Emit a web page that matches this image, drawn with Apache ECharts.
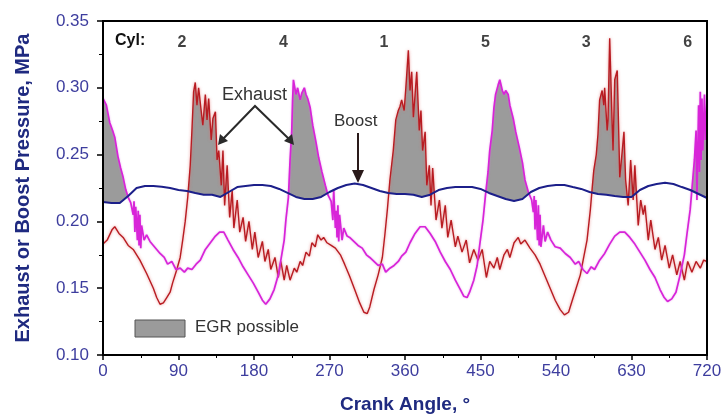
<!DOCTYPE html>
<html>
<head>
<meta charset="utf-8">
<script src="https://cdn.jsdelivr.net/npm/echarts@6/dist/echarts.min.js"></script>
<style>
  html, body { margin: 0; padding: 0; background: #fff; }
  #chart { width: 724px; height: 414px; }
</style>
</head>
<body>
<div id="chart"></div>
<script>
// Boost pressure (MPa) every 10 degrees of crank angle
const boostAngle = [0,10,20,30,40,50,60,70,80,90,100,110,120,130,140,150,160,170,180,190,200,210,220,230,240,250,260,270,280,290,300,310,320,330,340,350,360,370,380,390,400,410,420,430,440,450,460,470,480,490,500,510,520,530,540,550,560,570,580,590,600,610,620,630,640,650,660,670,680,690,700,710,720];
const boostPressure = [0.2145,0.2138,0.2138,0.219,0.225,0.2265,0.2265,0.226,0.225,0.2235,0.2228,0.2213,0.22,0.22,0.2183,0.222,0.2257,0.2265,0.2272,0.2272,0.2265,0.2243,0.2213,0.2183,0.2168,0.2168,0.2183,0.222,0.225,0.2272,0.2284,0.2272,0.225,0.2228,0.2213,0.2205,0.2205,0.22,0.2183,0.22,0.2235,0.225,0.2257,0.2257,0.2257,0.2243,0.2213,0.219,0.2168,0.2153,0.2168,0.222,0.225,0.2265,0.2272,0.2272,0.2257,0.2243,0.222,0.2205,0.22,0.219,0.2183,0.2183,0.2235,0.2265,0.228,0.229,0.228,0.2257,0.2235,0.2205,0.2175];

// Exhaust manifold serving cylinders 2, 1, 3 (red trace)
const exhaustAAngle = [0,5,11,14,19,24,30,36,44,52,60,64,68,72,76,80,83,88,92,95,98,101,104,106,108,110,112,114,117,119,122,124,126,129,131,134,136,138,141,143,145,148,151,154,156,160,163,167,170,174,178,181,185,190,193,197,200,205,209,212,216,219,223,228,231,235,238,242,246,249,253,256,260,263,267,272,277,283,288,294,300,306,311,315,318,323,328,333,336,339,342,346,349,352,354,356,359,361,364,366,368,370,372,374,377,379,381,384,386,389,391,393,397,401,404,408,411,415,420,423,428,433,437,442,447,452,457,461,466,470,473,478,482,485,490,495,498,503,509,515,521,527,533,539,545,550,555,559,564,569,573,577,581,583,585,588,590,592,595,597,598,601,602,604,607,608,610,613,615,616,619,621,623,626,629,632,634,638,641,644,646,650,653,658,662,666,670,675,679,684,688,693,697,702,707,712,716,720];
const exhaustAPressure = [0.183,0.186,0.194,0.196,0.191,0.188,0.182,0.179,0.171,0.161,0.150,0.143,0.138,0.139,0.143,0.147,0.154,0.164,0.173,0.186,0.200,0.218,0.242,0.268,0.297,0.304,0.287,0.300,0.283,0.272,0.295,0.276,0.292,0.261,0.277,0.282,0.246,0.253,0.227,0.253,0.212,0.242,0.203,0.223,0.195,0.216,0.192,0.203,0.185,0.200,0.179,0.192,0.173,0.185,0.170,0.179,0.164,0.173,0.158,0.170,0.156,0.167,0.156,0.165,0.162,0.170,0.167,0.177,0.174,0.184,0.181,0.190,0.186,0.188,0.184,0.182,0.180,0.175,0.168,0.159,0.149,0.139,0.132,0.131,0.136,0.149,0.160,0.173,0.190,0.209,0.231,0.253,0.276,0.283,0.286,0.291,0.283,0.300,0.328,0.298,0.312,0.278,0.295,0.312,0.268,0.283,0.253,0.267,0.227,0.242,0.212,0.240,0.201,0.216,0.195,0.212,0.188,0.201,0.181,0.189,0.177,0.186,0.169,0.179,0.171,0.179,0.158,0.170,0.165,0.173,0.164,0.175,0.179,0.173,0.184,0.188,0.183,0.186,0.180,0.175,0.168,0.159,0.150,0.141,0.134,0.130,0.132,0.140,0.150,0.160,0.173,0.186,0.209,0.224,0.238,0.250,0.265,0.291,0.298,0.287,0.300,0.268,0.276,0.337,0.272,0.253,0.306,0.313,0.261,0.233,0.253,0.267,0.231,0.212,0.246,0.216,0.242,0.197,0.216,0.205,0.212,0.186,0.201,0.179,0.188,0.171,0.182,0.165,0.175,0.160,0.170,0.156,0.170,0.162,0.170,0.165,0.171,0.170];

// Exhaust manifold serving cylinders 4, 5, 6 (magenta trace)
const exhaustBAngle = [0,4,8,12,14,18,21,24,27,30,33,36,37,38,39,41,42,43,44,45,46,49,52,56,60,64,68,73,77,82,87,92,97,101,106,111,116,122,128,134,139,144,149,155,161,167,173,179,185,190,194,199,204,209,212,216,218,221,223,225,226,227,230,232,235,237,240,242,244,247,250,254,257,261,265,268,272,274,275,277,278,279,280,281,282,285,287,291,294,299,304,309,314,318,323,328,333,337,342,347,352,356,361,366,372,378,384,390,396,402,408,414,420,426,430,434,437,442,446,449,453,456,459,461,464,466,468,471,473,476,478,480,483,485,489,492,496,500,503,507,511,513,514,515,516,518,519,520,521,522,525,527,530,534,539,545,551,557,563,567,572,577,582,586,592,598,604,610,616,622,628,634,640,646,652,658,664,669,673,678,683,688,693,696,700,702,705,707,708,710,711,712,713,714,715,717,718,720];
const exhaustBPressure = [0.292,0.287,0.274,0.267,0.263,0.248,0.240,0.233,0.224,0.218,0.214,0.205,0.215,0.192,0.211,0.186,0.208,0.182,0.205,0.180,0.197,0.186,0.190,0.185,0.182,0.179,0.176,0.173,0.168,0.170,0.164,0.165,0.162,0.165,0.164,0.168,0.171,0.179,0.184,0.189,0.192,0.192,0.186,0.179,0.173,0.166,0.160,0.154,0.147,0.141,0.138,0.142,0.149,0.160,0.171,0.186,0.201,0.218,0.246,0.268,0.291,0.306,0.295,0.300,0.291,0.296,0.300,0.295,0.292,0.285,0.272,0.259,0.248,0.237,0.227,0.220,0.215,0.201,0.224,0.195,0.208,0.188,0.212,0.185,0.205,0.186,0.195,0.189,0.188,0.185,0.182,0.180,0.175,0.173,0.170,0.167,0.168,0.162,0.165,0.167,0.170,0.174,0.177,0.184,0.191,0.196,0.196,0.191,0.185,0.177,0.170,0.164,0.156,0.149,0.144,0.143,0.147,0.156,0.167,0.182,0.201,0.220,0.237,0.253,0.268,0.285,0.295,0.302,0.306,0.298,0.295,0.298,0.295,0.287,0.277,0.267,0.256,0.244,0.231,0.222,0.216,0.207,0.219,0.194,0.216,0.186,0.212,0.182,0.205,0.181,0.197,0.185,0.192,0.186,0.181,0.180,0.176,0.173,0.168,0.170,0.164,0.161,0.166,0.164,0.171,0.176,0.183,0.189,0.192,0.192,0.188,0.183,0.177,0.171,0.164,0.158,0.149,0.143,0.140,0.142,0.147,0.160,0.175,0.190,0.209,0.224,0.246,0.268,0.216,0.287,0.237,0.297,0.246,0.292,0.253,0.295,0.261,0.291];

// Firing cylinder labels along the top
const cylinderAngle = [94, 215, 335, 456, 576, 697];
const cylinderLabel = ['2', '4', '1', '5', '3', '6'];

const yTicks = [0.10, 0.15, 0.20, 0.25, 0.30, 0.35];
const xTicks = [0, 90, 180, 270, 360, 450, 540, 630, 720];

const pairs = (xs, ys) => xs.map((x, i) => [x, ys[i]]);

const chart = echarts.init(document.getElementById('chart'), null, { renderer: 'canvas' });
const FONT = '"Liberation Sans", Arial, sans-serif';
const NAVY = '#1f2a80';
const TICKBLUE = '#3d3d9e';
const GREY = '#9b9b9b';

const areaOnly = (name, xs, ys, fill) => ({
  name, type: 'line', data: pairs(xs, ys), showSymbol: false, silent: true,
  lineStyle: { width: 0, opacity: 0 },
  areaStyle: { color: fill, opacity: 1, origin: 'start' },
  z: 1
});

chart.setOption({
  animation: false,
  backgroundColor: '#fff',
  grid: {
    left: 103, right: 17, top: 21, bottom: 59, containLabel: false, outerBoundsMode: 'none',
    show: true, borderColor: '#000', borderWidth: 2, backgroundColor: 'transparent', z: 10
  },
  xAxis: {
    type: 'value', min: 0, max: 720, interval: 90, z: 10,
    name: 'Crank Angle, °', nameLocation: 'middle', nameGap: 40,
    nameTextStyle: { fontFamily: FONT, fontSize: 19, fontWeight: 'bold', color: NAVY },
    axisLine: { show: true, lineStyle: { color: '#000', width: 2 } },
    axisTick: { show: true, length: 5, lineStyle: { color: '#000', width: 1.5 } },
    minorTick: { show: true, splitNumber: 2, length: 3, lineStyle: { color: '#000', width: 1 } },
    splitLine: { show: false },
    axisLabel: {
      fontFamily: FONT, fontSize: 17, color: TICKBLUE, margin: 8,
      customValues: xTicks, formatter: v => String(v)
    }
  },
  yAxis: {
    type: 'value', min: 0.10, max: 0.35, interval: 0.05, z: 10,
    name: 'Exhaust or Boost Pressure, MPa', nameLocation: 'middle', nameGap: 70, nameRotate: 90,
    nameTextStyle: { fontFamily: FONT, fontSize: 20, fontWeight: 'bold', color: NAVY },
    axisLine: { show: true, lineStyle: { color: '#000', width: 2 } },
    axisTick: { show: true, length: 6, lineStyle: { color: '#000', width: 1.5 } },
    minorTick: { show: true, splitNumber: 2, length: 4, lineStyle: { color: '#000', width: 1 } },
    splitLine: { show: false },
    axisLabel: {
      fontFamily: FONT, fontSize: 17, color: TICKBLUE, margin: 14,
      formatter: v => yTicks.find(t => Math.abs(t - v) < 1e-9).toFixed(2)
    }
  },
  series: [
    // grey "EGR possible" region: area under each exhaust trace, masked below boost
    areaOnly('egrA', exhaustAAngle, exhaustAPressure, GREY),
    areaOnly('egrB', exhaustBAngle, exhaustBPressure, GREY),
    areaOnly('mask', boostAngle, boostPressure, '#ffffff'),
    {
      name: 'Exhaust A', type: 'line', data: pairs(exhaustAAngle, exhaustAPressure),
      showSymbol: false, silent: true, z: 3,
      lineStyle: { color: '#b81c22', width: 1.4, shadowColor: 'rgba(225,110,110,0.75)', shadowBlur: 3 }
    },
    {
      name: 'Exhaust B', type: 'line', data: pairs(exhaustBAngle, exhaustBPressure),
      showSymbol: false, silent: true, z: 3,
      lineStyle: { color: '#d824d8', width: 1.7, shadowColor: 'rgba(220,120,230,0.6)', shadowBlur: 2 }
    },
    {
      name: 'Boost', type: 'line', data: pairs(boostAngle, boostPressure),
      showSymbol: false, silent: true, z: 4,
      lineStyle: { color: '#1c1f8a', width: 2 }
    },
    {
      name: 'Cylinders', type: 'scatter', symbolSize: 0, silent: true, z: 5,
      data: cylinderAngle.map((a, i) => ({ value: [a, 0.334], label: { formatter: cylinderLabel[i] } })),
      label: { show: true, position: 'inside', fontFamily: FONT, fontSize: 16, fontWeight: 'bold', color: '#111' }
    }
  ],
  graphic: [
    { type: 'text', left: 115, top: 33, z: 100, style: { text: 'Cyl:', font: 'bold 16px ' + FONT, fill: '#111' } },
    // Exhaust annotation
    { type: 'text', left: 222, top: 86, z: 100, style: { text: 'Exhaust', font: '18px ' + FONT, fill: '#333' } },
    { type: 'polyline', z: 100, shape: { points: [[222, 140], [255, 106], [290, 140]] }, style: { stroke: '#2a2a2a', lineWidth: 2, fill: null } },
    { type: 'polygon', z: 100, shape: { points: [[218, 145], [220, 134], [228, 141]] }, style: { fill: '#2a2a2a' } },
    { type: 'polygon', z: 100, shape: { points: [[294, 145], [284, 141], [292, 134]] }, style: { fill: '#2a2a2a' } },
    // Boost annotation
    { type: 'text', left: 334, top: 113, z: 100, style: { text: 'Boost', font: '17px ' + FONT, fill: '#333' } },
    { type: 'line', z: 100, shape: { x1: 358, y1: 133, x2: 358, y2: 174 }, style: { stroke: '#2a1a1a', lineWidth: 2 } },
    { type: 'polygon', z: 100, shape: { points: [[352, 170], [364, 170], [358, 183]] }, style: { fill: '#2a1a1a' } },
    // legend
    { type: 'rect', z: 100, shape: { x: 135, y: 320, width: 50, height: 17 }, style: { fill: GREY, stroke: '#555', lineWidth: 1 } },
    { type: 'text', left: 195, top: 319, z: 100, style: { text: 'EGR possible', font: '17px ' + FONT, fill: '#333' } }
  ]
});
</script>
</body>
</html>
